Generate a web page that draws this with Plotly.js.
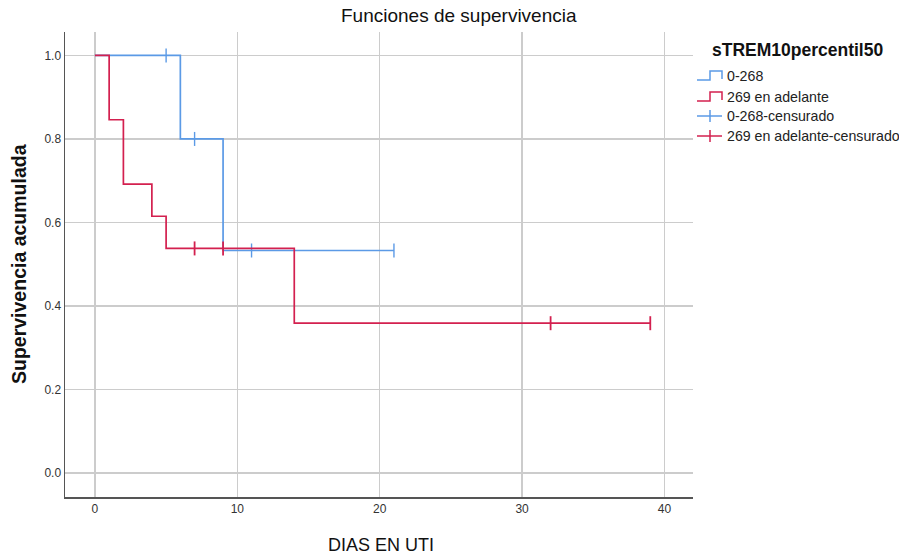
<!DOCTYPE html>
<html>
<head>
<meta charset="utf-8">
<script src="https://cdn.plot.ly/plotly-3.0.1.min.js"></script>
<style>
  html, body { margin: 0; padding: 0; background: #ffffff; }
  #chart { width: 899px; height: 557px; }
</style>
</head>
<body>
<div id="chart"></div>
<script>
// Kaplan-Meier estimates by sTREM group
const groupNames = ['0-268', '269 en adelante'];

// 0-268: step curve (time, cumulative survival)
const lowTimes = [0, 6, 9, 21];
const lowSurv = [1.0, 0.8, 0.533, 0.533];
// 0-268: censored observations
const lowCensTimes = [5, 7, 11, 21];
const lowCensSurv = [1.0, 0.8, 0.533, 0.533];

// 269 en adelante: step curve
const highTimes = [0, 1, 2, 4, 5, 14, 39];
const highSurv = [1.0, 0.846, 0.692, 0.615, 0.538, 0.359, 0.359];
// 269 en adelante: censored observations
const highCensTimes = [7, 9, 32, 39];
const highCensSurv = [0.538, 0.538, 0.359, 0.359];

const xTicks = [0, 10, 20, 30, 40];
const yTicks = [0.0, 0.2, 0.4, 0.6, 0.8, 1.0];
const yTickText = ['0.0', '0.2', '0.4', '0.6', '0.8', '1.0'];

const blue = '#5b9ae6';
const red = '#d3204f';
const font = 'Liberation Sans, Arial, sans-serif';

const traces = [
  {
    x: lowTimes, y: lowSurv, mode: 'lines', line: { shape: 'hv', color: blue, width: 1.7 },
    name: groupNames[0], showlegend: false
  },
  {
    x: lowCensTimes, y: lowCensSurv, mode: 'markers',
    marker: { symbol: 'line-ns-open', size: 10, color: blue, line: { color: blue, width: 1.4 } },
    name: groupNames[0] + '-censurado', showlegend: false
  },
  {
    x: highTimes, y: highSurv, mode: 'lines', line: { shape: 'hv', color: red, width: 1.7 },
    name: groupNames[1], showlegend: false
  },
  {
    x: highCensTimes, y: highCensSurv, mode: 'markers',
    marker: { symbol: 'line-ns-open', size: 10, color: red, line: { color: red, width: 1.8 } },
    name: groupNames[1] + '-censurado', showlegend: false
  }
];

// Plot area in pixels (used for the hand-built legend)
const W = 899, H = 557;
const M = { l: 65, r: 206, t: 32, b: 60 };
const PW = W - M.l - M.r, PH = H - M.t - M.b;
const px = v => (v - M.l) / PW;
const py = v => (H - M.b - v) / PH;

const shapes = [];
const annotations = [];

// Legend title
annotations.push({
  xref: 'paper', yref: 'paper', x: px(797), y: py(50), xanchor: 'center', yanchor: 'middle',
  text: '<b>sTREM10percentil50</b>', showarrow: false,
  font: { family: font, size: 17.5, color: '#111' }
});

const legendRows = [
  { y: 76, color: blue, kind: 'step', label: groupNames[0] },
  { y: 97, color: red, kind: 'step', label: groupNames[1] },
  { y: 116, color: blue, kind: 'cross', label: groupNames[0] + '-censurado' },
  { y: 136, color: red, kind: 'cross', label: groupNames[1] + '-censurado' }
];
legendRows.forEach(r => {
  if (r.kind === 'step') {
    const lo = r.y + 4, hi = r.y - 5;
    const path = 'M ' + px(697) + ' ' + py(lo) + ' L ' + px(710) + ' ' + py(lo) +
      ' L ' + px(710) + ' ' + py(hi) + ' L ' + px(722) + ' ' + py(hi) + ' L ' + px(722) + ' ' + py(lo - 1);
    shapes.push({ type: 'path', xref: 'paper', yref: 'paper', path: path, line: { color: r.color, width: 1.5 } });
  } else {
    shapes.push({ type: 'line', xref: 'paper', yref: 'paper', x0: px(697), x1: px(722), y0: py(r.y), y1: py(r.y),
      line: { color: r.color, width: 1.5 } });
    shapes.push({ type: 'line', xref: 'paper', yref: 'paper', x0: px(710), x1: px(710), y0: py(r.y - 6), y1: py(r.y + 6),
      line: { color: r.color, width: 1.5 } });
  }
  annotations.push({
    xref: 'paper', yref: 'paper', x: px(725), y: py(r.y), xanchor: 'left', yanchor: 'middle',
    text: r.label, showarrow: false, font: { family: font, size: 14.2, color: '#222' }
  });
});

// Axis titles and chart title
annotations.push({
  xref: 'paper', yref: 'paper', x: px(459), y: py(16), xanchor: 'center', yanchor: 'middle',
  text: 'Funciones de supervivencia', showarrow: false, font: { family: font, size: 19, color: '#111' }
});
annotations.push({
  xref: 'paper', yref: 'paper', x: px(381), y: py(545), xanchor: 'center', yanchor: 'middle',
  text: 'DIAS EN UTI', showarrow: false,
  font: { family: font, size: 18, color: '#111' }
});
annotations.push({
  xref: 'paper', yref: 'paper', x: px(19), y: py(264), xanchor: 'center', yanchor: 'middle',
  text: '<b>Supervivencia acumulada</b>', textangle: -90, showarrow: false,
  font: { family: font, size: 19.5, color: '#111' }
});

const layout = {
  width: W, height: H,
  margin: M,
  paper_bgcolor: '#ffffff', plot_bgcolor: '#ffffff',
  showlegend: false,
  xaxis: {
    range: [-2.1, 42], tickvals: xTicks, ticktext: xTicks.map(String),
    showgrid: true, gridcolor: '#cccccc', gridwidth: 1.5,
    zeroline: false, showline: true, linecolor: '#555555', linewidth: 1.5,
    ticks: '', tickfont: { family: font, size: 12, color: '#333' },
    automargin: false
  },
  yaxis: {
    range: [-0.057, 1.056], tickvals: yTicks, ticktext: yTickText,
    showgrid: true, gridcolor: '#cccccc', gridwidth: 1.5,
    zeroline: false, showline: true, linecolor: '#555555', linewidth: 1.5,
    ticks: '', tickfont: { family: font, size: 12, color: '#333' },
    automargin: false
  },
  shapes: shapes,
  annotations: annotations
};

Plotly.newPlot('chart', traces, layout, { displayModeBar: false, staticPlot: true });
</script>
</body>
</html>
